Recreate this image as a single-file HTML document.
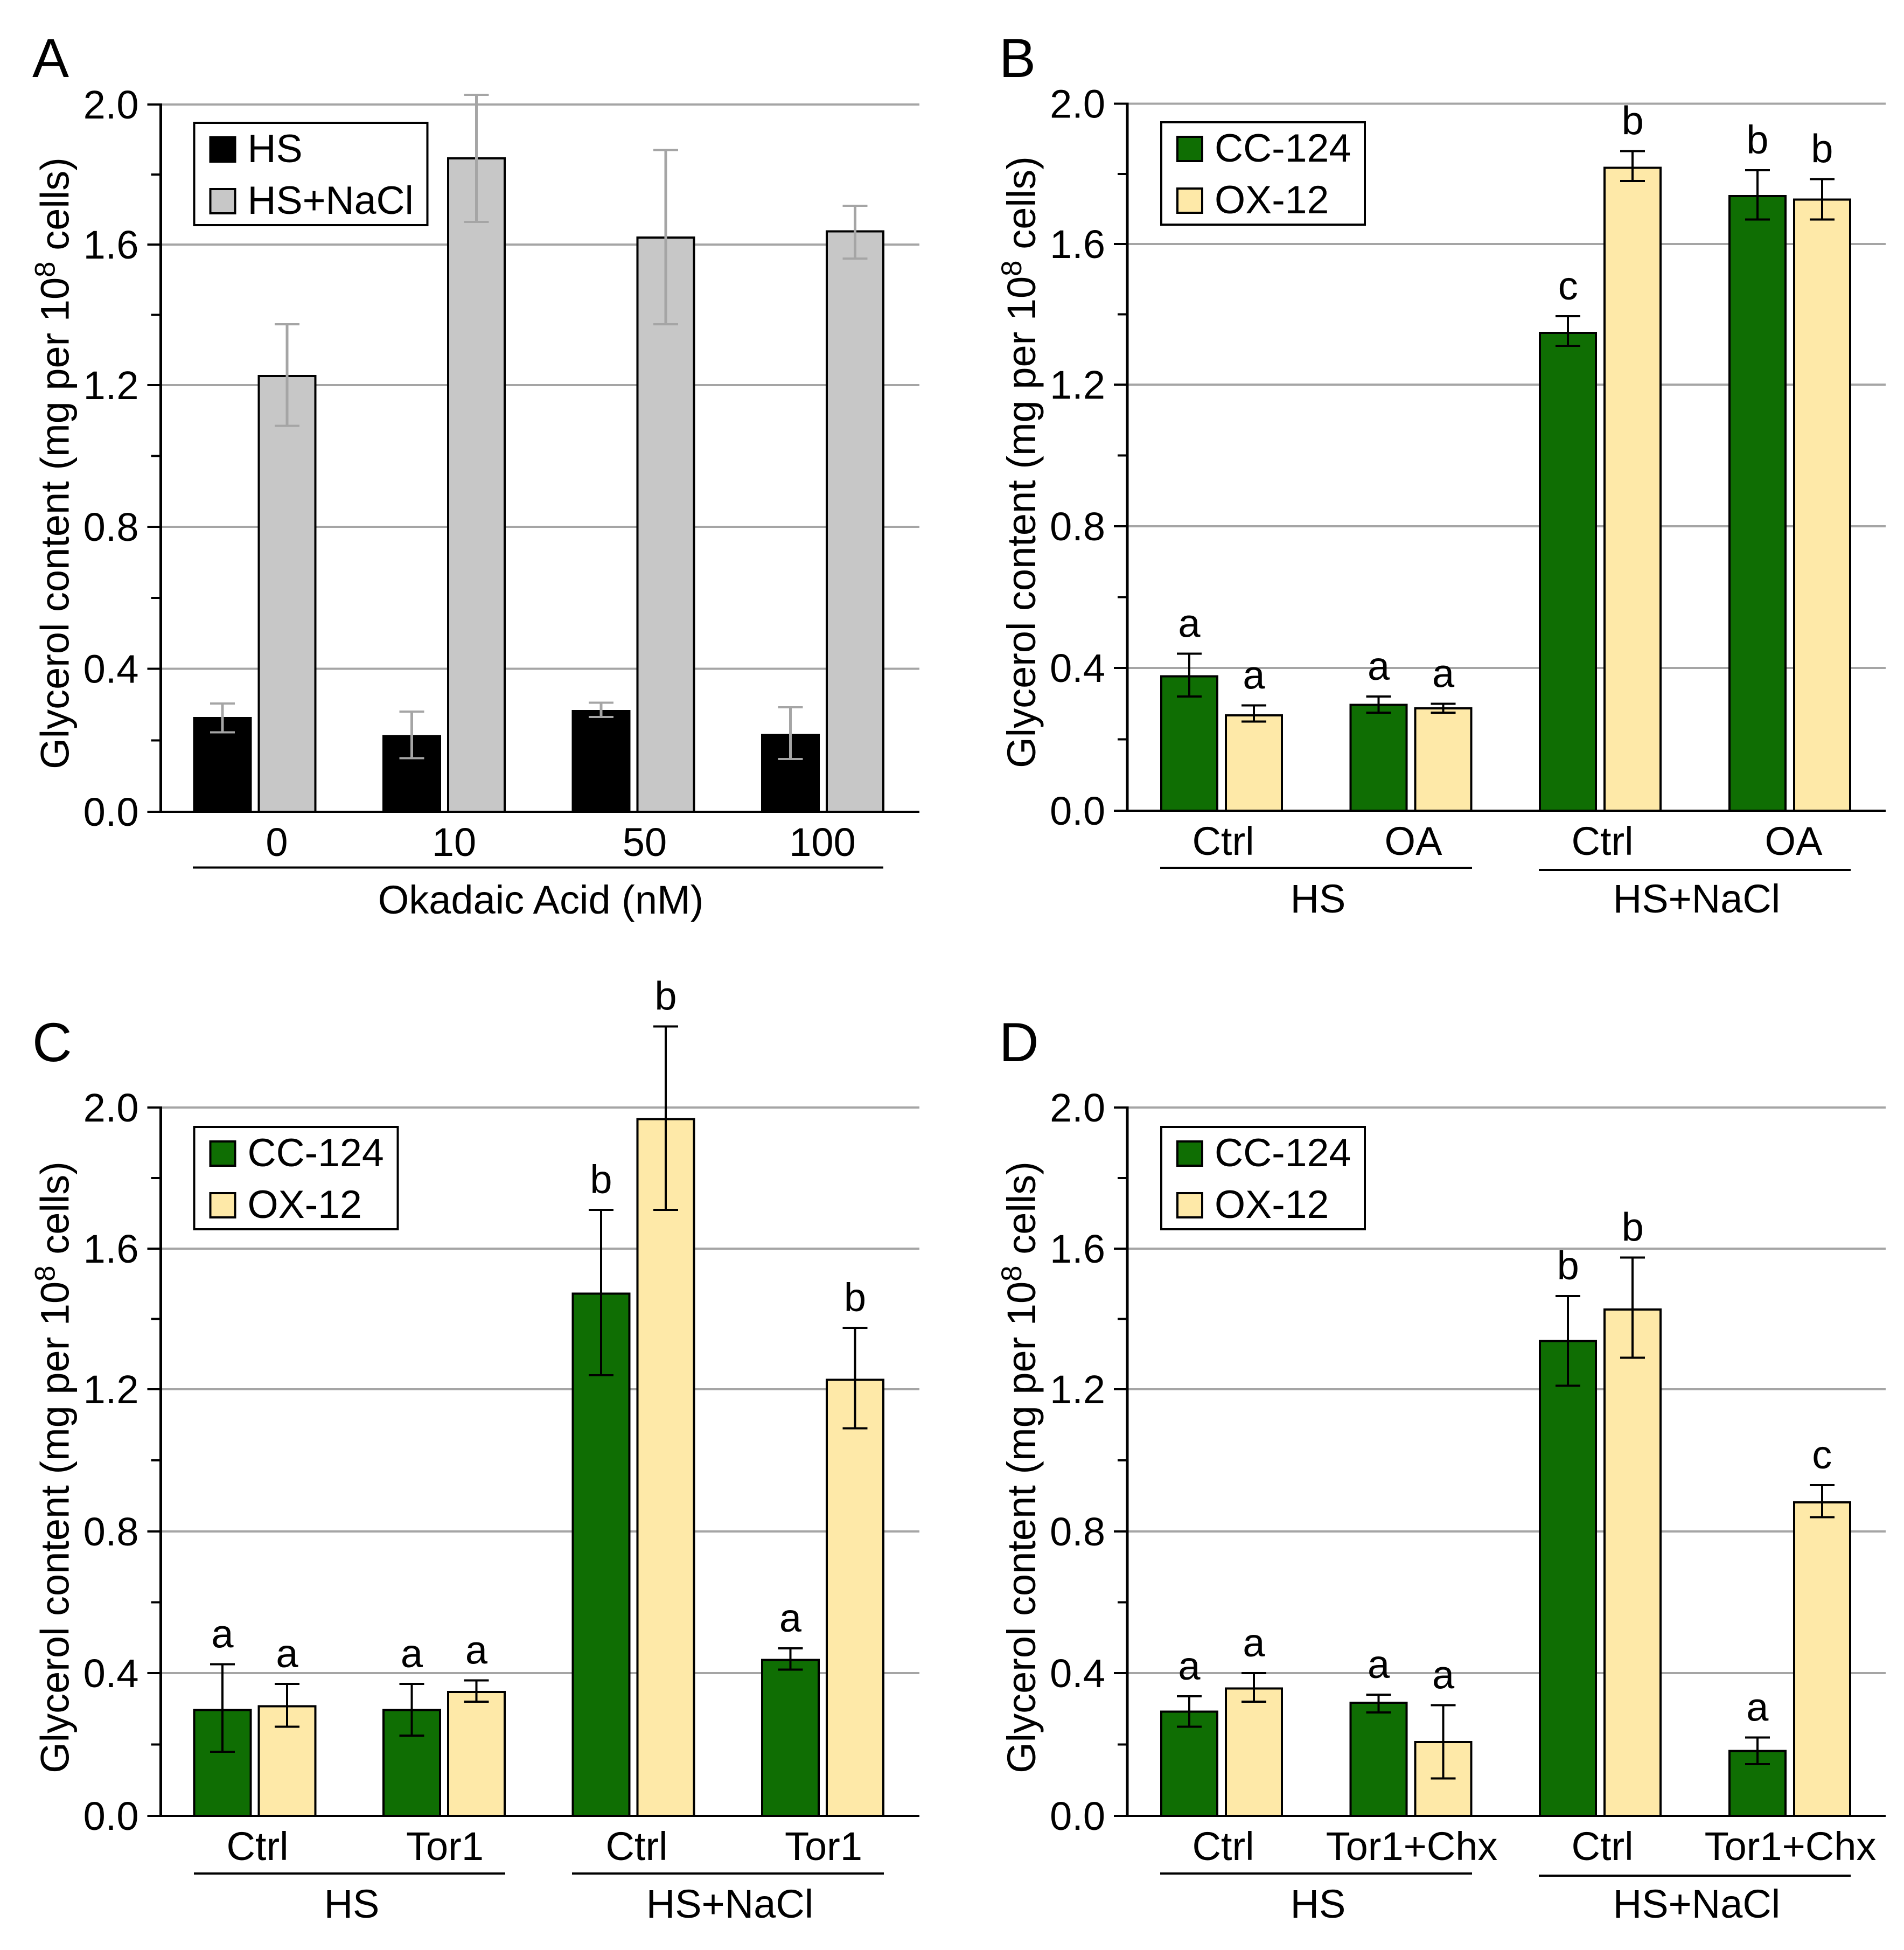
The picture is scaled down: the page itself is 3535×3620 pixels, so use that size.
<!DOCTYPE html>
<html>
<head>
<meta charset="utf-8">
<title>Glycerol content charts</title>
<style>
html,body{margin:0;padding:0;background:#fff;}
svg{display:block;font-family:"Liberation Sans",Arial,sans-serif;}
line,rect{shape-rendering:crispEdges;}
</style>
</head>
<body>
<svg id="figure" width="3535" height="3620" viewBox="0 0 3535 3620" xmlns="http://www.w3.org/2000/svg"></svg>
<script>
// ---- tick values ----
const majorTicks = [0, 0.4, 0.8, 1.2, 1.6, 2.0];
const minorTicks = [0.2, 0.6, 1.0, 1.4, 1.8];

// ---- panel A ----
const aCategories = ['0', '10', '50', '100'];
const aHs = [0.265, 0.215, 0.285, 0.218];
const aHsLow = [0.222, 0.150, 0.265, 0.148];
const aHsHigh = [0.303, 0.280, 0.305, 0.292];
const aSalt = [1.229, 1.849, 1.623, 1.641];
const aSaltLow = [1.085, 1.665, 1.373, 1.560];
const aSaltHigh = [1.373, 2.028, 1.870, 1.711];

// ---- panel B ----
const bCategories = ['Ctrl', 'OA', 'Ctrl', 'OA'];
const bCc = [0.38, 0.30, 1.35, 1.74];
const bCcLow = [0.32, 0.275, 1.31, 1.67];
const bCcHigh = [0.44, 0.32, 1.395, 1.81];
const bCcLetters = ['a', 'a', 'c', 'b'];
const bOx = [0.27, 0.29, 1.82, 1.73];
const bOxLow = [0.25, 0.275, 1.78, 1.67];
const bOxHigh = [0.295, 0.30, 1.865, 1.785];
const bOxLetters = ['a', 'a', 'b', 'b'];

// ---- panel C ----
const cCategories = ['Ctrl', 'Tor1', 'Ctrl', 'Tor1'];
const cCc = [0.30, 0.30, 1.475, 0.44];
const cCcLow = [0.18, 0.225, 1.24, 0.41];
const cCcHigh = [0.425, 0.37, 1.71, 0.47];
const cCcLetters = ['a', 'a', 'b', 'a'];
const cOx = [0.31, 0.35, 1.97, 1.23];
const cOxLow = [0.25, 0.32, 1.71, 1.09];
const cOxHigh = [0.37, 0.38, 2.23, 1.375];
const cOxLetters = ['a', 'a', 'b', 'b'];

// ---- panel D ----
const dCategories = ['Ctrl', 'Tor1+Chx', 'Ctrl', 'Tor1+Chx'];
const dCc = [0.295, 0.32, 1.34, 0.185];
const dCcLow = [0.25, 0.29, 1.21, 0.145];
const dCcHigh = [0.335, 0.34, 1.465, 0.22];
const dCcLetters = ['a', 'a', 'b', 'a'];
const dOx = [0.36, 0.21, 1.43, 0.885];
const dOxLow = [0.32, 0.105, 1.29, 0.84];
const dOxHigh = [0.40, 0.31, 1.575, 0.93];
const dOxLetters = ['a', 'a', 'b', 'c'];

const svg = document.getElementById('figure');
const NS = 'http://www.w3.org/2000/svg';
const GREEN = '#0f6e03', CREAM = '#fee9a8', GREY = '#c7c7c7', GRID = '#a5a5a5';
const FS = 74;

function mk(tag, attrs, parent) {
  const e = document.createElementNS(NS, tag);
  for (const k in attrs) e.setAttribute(k, attrs[k]);
  parent.appendChild(e);
  return e;
}
function line(parent, x1, y1, x2, y2, color, w) {
  return mk('line', {x1: x1, y1: y1, x2: x2, y2: y2, stroke: color, 'stroke-width': w}, parent);
}
function text(parent, str, x, y, anchor, size) {
  const t = mk('text', {x: x, y: y, 'text-anchor': anchor, 'font-size': size, fill: '#000'}, parent);
  t.textContent = str;
  return t;
}

function drawPanel(p) {
  const g = mk('g', {}, svg);
  
  

  // axis function: piecewise through the rendered major-tick rows of this panel
  const yScale = v => {
    const step = 0.4;
    const i = Math.max(0, Math.min(p.rows.length - 2, Math.floor(v / step)));
    return p.rows[i] + (v / step - i) * (p.rows[i + 1] - p.rows[i]);
  };
  const y0 = yScale(0), yTop = yScale(2);

  const letter = text(g, p.letter, p.letterX, p.letterY, 'start', 102);
  
  

  // gridlines
  majorTicks.forEach(v => {
    if (v === 0) return;
    const gl = line(g, p.axisX, yScale(v), p.axisRight, yScale(v), GRID, 4);
    
    
  });

  // bars
  p.series.forEach((s, si) => {
    s.values.forEach((v, i) => {
      const left = p.barX + i * p.pitch + si * p.offset;
      const top = yScale(v);
      const bar = mk('rect', {x: left + 2, y: top + 2, width: p.barW - 4, height: y0 - top - 2, fill: s.fill, stroke: '#000', 'stroke-width': 4}, g);
      
      
    });
  });

  // axes
  const yAxis = line(g, p.axisX, yTop - 2, p.axisX, y0 + 2, '#000', 5);
  
  
  const xAxis = line(g, p.axisX - 25, y0, p.axisRight, y0, '#000', 4);
  
  

  majorTicks.forEach(v => {
    const tk = line(g, p.axisX - 25, yScale(v), p.axisX, yScale(v), '#000', 4);
    
    
    const lb = text(g, v.toFixed(1), p.axisX - 41, yScale(v) + 26, 'end', FS);
    
    
  });
  minorTicks.forEach(v => {
    const tk = line(g, p.axisX - 18, yScale(v), p.axisX, yScale(v), '#000', 4);
    
    
  });

  // error bars and letters
  p.series.forEach((s, si) => {
    s.values.forEach((v, i) => {
      const cx = p.barX + i * p.pitch + si * p.offset + p.barW / 2;
      const hi = yScale(s.high[i]), lo = yScale(s.low[i]);
      const eb = mk('g', {}, g);
      
      
      line(eb, cx, hi, cx, lo, p.errColor, p.errStem);
      line(eb, cx - 23, hi, cx + 23, hi, p.errColor, 4);
      line(eb, cx - 23, lo, cx + 23, lo, p.errColor, 4);
      if (s.letters) {
        const sig = text(g, s.letters[i], cx, hi - 31, 'middle', FS);
        
        
      }
    });
  });

  // y title
  const title = mk('text', {x: 0, y: 0, 'text-anchor': 'middle', 'font-size': FS, fill: '#000', transform: 'translate(' + (p.axisX - 171) + ' ' + p.titleY + ') rotate(-90)'}, g);
  
  
  const t1 = mk('tspan', {}, title);
  t1.textContent = 'Glycerol content (mg per 10';
  const t2 = mk('tspan', {dy: -26, 'font-size': 53}, title);
  t2.textContent = '8';
  const t3 = mk('tspan', {dy: 26}, title);
  t3.textContent = ' cells)';

  // category labels
  p.categories.forEach((c, i) => {
    const lb = text(g, c, p.catX[i], y0 + 82, 'middle', FS);
    
    
  });

  // group brackets
  p.brackets.forEach(b => {
    const ul = line(g, b.x1, b.y, b.x2, b.y, '#000', 4);
    
    
    const gl = text(g, b.label, b.labelX, y0 + 189, 'middle', FS);
    
    
  });

  // legend
  const lg = mk('g', {}, g);
  
  
  const lx = p.barX + 2, ly = p.legendY;
  const box = mk('rect', {x: lx, y: ly, width: p.legendW, height: 190, fill: '#fff', stroke: '#000', 'stroke-width': 4}, lg);
  
  
  p.series.forEach((s, si) => {
    const top = ly + 25 + si * 96;
    const sw = mk('rect', {x: lx + 30, y: top + 2, width: 46, height: 45, fill: s.fill, stroke: '#000', 'stroke-width': 4}, lg);
    
    
    const lt = text(lg, s.name, lx + 99, top + 48, 'start', 73.5);
    
    
  });
}

drawPanel({
  letter: 'A', letterX: 60, letterY: 143, rows: [1507, 1241.5, 978, 715, 454, 194], axisX: 298.5, axisRight: 1707, titleY: 860,
  barX: 358.5, barW: 109, offset: 120, pitch: 351.5, errColor: '#a5a5a5', errStem: 5, legendY: 228, legendW: 433,
  categories: aCategories, catX: [514, 843, 1197, 1527],
  brackets: [{x1: 358, x2: 1640, y: 1610.5, label: 'Okadaic Acid (nM)', labelX: 1004}],
  series: [
    {key: 'hs', name: 'HS', fill: '#000', values: aHs, low: aHsLow, high: aHsHigh},
    {key: 'hs-nacl', name: 'HS+NaCl', fill: GREY, values: aSalt, low: aSaltLow, high: aSaltHigh}
  ]
});
drawPanel({
  letter: 'B', letterX: 1855, letterY: 143, rows: [1505, 1240, 977, 714, 453, 192.5], axisX: 2093, axisRight: 3501, titleY: 858,
  barX: 2154, barW: 108, offset: 120, pitch: 351.6, errColor: '#000', errStem: 4, legendY: 227, legendW: 378,
  categories: bCategories, catX: [2271, 2624, 2975, 3330],
  brackets: [{x1: 2154, x2: 2733, y: 1611, label: 'HS', labelX: 2447}, {x1: 2857, x2: 3436, y: 1615, label: 'HS+NaCl', labelX: 3150}],
  series: [
    {key: 'cc-124', name: 'CC-124', fill: GREEN, values: bCc, low: bCcLow, high: bCcHigh, letters: bCcLetters},
    {key: 'ox-12', name: 'OX-12', fill: CREAM, values: bOx, low: bOxLow, high: bOxHigh, letters: bOxLetters}
  ]
});
drawPanel({
  letter: 'C', letterX: 60, letterY: 1970, rows: [3371, 3106, 2843, 2579, 2318, 2056], axisX: 298.5, axisRight: 1707, titleY: 2724,
  barX: 358.5, barW: 109, offset: 120, pitch: 351.5, errColor: '#000', errStem: 4, legendY: 2092, legendW: 378,
  categories: cCategories, catX: [478, 826, 1182, 1529],
  brackets: [{x1: 360, x2: 938, y: 3478, label: 'HS', labelX: 653}, {x1: 1062, x2: 1641, y: 3478, label: 'HS+NaCl', labelX: 1355}],
  series: [
    {key: 'cc-124', name: 'CC-124', fill: GREEN, values: cCc, low: cCcLow, high: cCcHigh, letters: cCcLetters},
    {key: 'ox-12', name: 'OX-12', fill: CREAM, values: cOx, low: cOxLow, high: cOxHigh, letters: cOxLetters}
  ]
});
drawPanel({
  letter: 'D', letterX: 1855, letterY: 1970, rows: [3371, 3106, 2843, 2579, 2318, 2056], axisX: 2093, axisRight: 3501, titleY: 2724,
  barX: 2154, barW: 108, offset: 120, pitch: 351.6, errColor: '#000', errStem: 4, legendY: 2092, legendW: 378,
  categories: dCategories, catX: [2271, 2621, 2975, 3324],
  brackets: [{x1: 2154, x2: 2733, y: 3478, label: 'HS', labelX: 2447}, {x1: 2857, x2: 3436, y: 3482, label: 'HS+NaCl', labelX: 3150}],
  series: [
    {key: 'cc-124', name: 'CC-124', fill: GREEN, values: dCc, low: dCcLow, high: dCcHigh, letters: dCcLetters},
    {key: 'ox-12', name: 'OX-12', fill: CREAM, values: dOx, low: dOxLow, high: dOxHigh, letters: dOxLetters}
  ]
});
</script>
</body>
</html>
